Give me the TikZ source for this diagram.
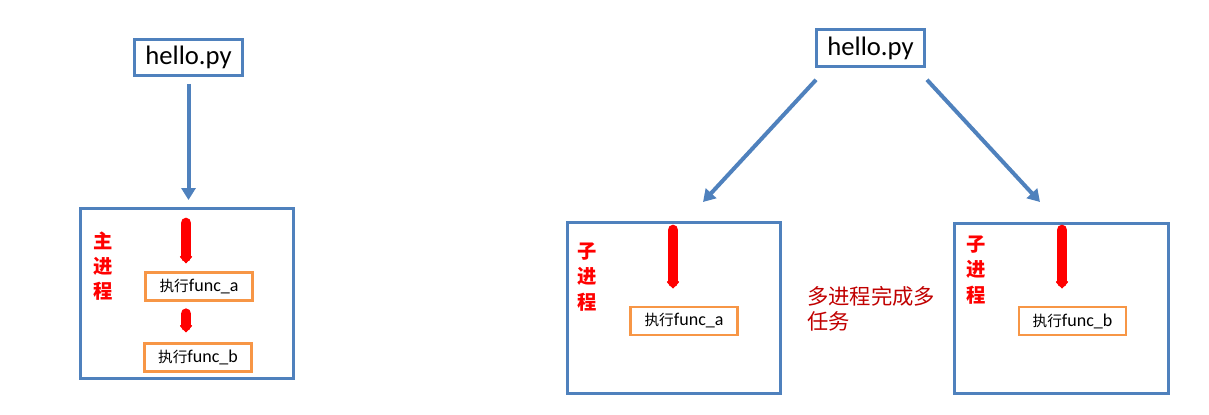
\documentclass[tikz,border=0pt]{standalone}
\usepackage{fontspec}
\setmainfont{Carlito}
\newfontfamily\cjk{Noto Sans CJK SC}
\usetikzlibrary{positioning, calc, arrows.meta}
\definecolor{boxblue}{HTML}{4F81BD}
\definecolor{funcorange}{HTML}{F79646}
\definecolor{taskred}{HTML}{C00000}

\begin{document}
\begin{tikzpicture}[x=0.75pt, y=-0.75pt,
    file_node/.style={rectangle, draw=boxblue, line width=2.2pt, minimum width=81pt, minimum height=27.5pt, inner sep=0pt, font=\fontsize{20}{24}\selectfont},
    proc_node/.style={rectangle, draw=boxblue, line width=2.2pt, minimum width=160pt, minimum height=128pt},
    func_node/.style={rectangle, draw=funcorange, line width=1.8pt, minimum width=80pt, minimum height=21pt, inner sep=0pt, font=\fontsize{13.5}{16}\selectfont},
    proc_label/.style={text=red, align=center, inner sep=0pt, font=\cjk\bfseries\fontsize{14.5}{19}\selectfont},
    task_text/.style={text=taskred, align=left, inner sep=0pt, font=\cjk\fontsize{16}{18.75}\selectfont},
    blue_arrow/.style={draw=boxblue, line width=3pt, -{Triangle[length=9pt,width=10.5pt]}},
    red_arrow/.style={draw=red, line width=8pt, line cap=round, -{Latex[round,length=6pt,width=12pt,line width=3pt]}}]
    \useasboundingbox (0,0) rectangle (1209,414);

    % Single process
    \node[file_node] (hello_main) at (188.5,57.5) {hello.py};
    \node[proc_node] (main_proc) at (187,293.5) {};
    \node[proc_label] (main_label) at (103,266) {主\\进\\程};
    \node[func_node] (main_func_a) at (199,286.5) {{\cjk\fontsize{11}{13}\selectfont 执行}func\_a};
    \node[func_node, below=30.5pt of main_func_a, xshift=-0.75pt] (main_func_b) {{\cjk\fontsize{11}{13}\selectfont 执行}func\_b};
    \draw[blue_arrow, shorten <=5pt, shorten >=5pt] (hello_main) -- (hello_main |- main_proc.north);
    % red flow in main process
    \coordinate (main_top) at (186,223);
    \draw[red_arrow, shorten >=6pt] (main_top) -- (main_top |- main_func_a.north);
    \draw[red_arrow, shorten <=9pt, shorten >=7.5pt] (main_top |- main_func_a.south) -- (main_top |- main_func_b.north);

    % Multi process
    \node[file_node] (hello_multi) at (870.5,48) {hello.py};
    \node[proc_node] (child_a) at (674,308) {};
    \node[proc_node] (child_b) at (1061.5,308.5) {};
    \node[proc_label] (child_a_label) at (587,277) {子\\进\\程};
    \node[proc_label] (child_b_label) at (976,270) {子\\进\\程};
    \node[func_node] (child_func_a) at (684,321) {{\cjk\fontsize{11}{13}\selectfont 执行}func\_a};
    \node[func_node] (child_func_b) at (1072.5,321) {{\cjk\fontsize{11}{13}\selectfont 执行}func\_b};
    \node[task_text, anchor=north west] (task_note) at (807,286) {多进程完成多\\任务};

    % Arrows to children
    \coordinate (fork_a) at (703,202);
    \coordinate (fork_b) at (1040,202);
    \draw[blue_arrow] ($(hello_multi.south west)+(1,12)$) -- (fork_a);
    \draw[blue_arrow] ($(hello_multi.south east)+(1,12)$) -- (fork_b);

    % red flow in children
    \coordinate (child_a_top) at (673,230);
    \coordinate (child_b_top) at (1062,230);
    \draw[red_arrow, shorten >=13pt] (child_a_top) -- (child_a_top |- child_func_a.north);
    \draw[red_arrow, shorten >=13pt] (child_b_top) -- (child_b_top |- child_func_b.north);
\end{tikzpicture}
\end{document}
